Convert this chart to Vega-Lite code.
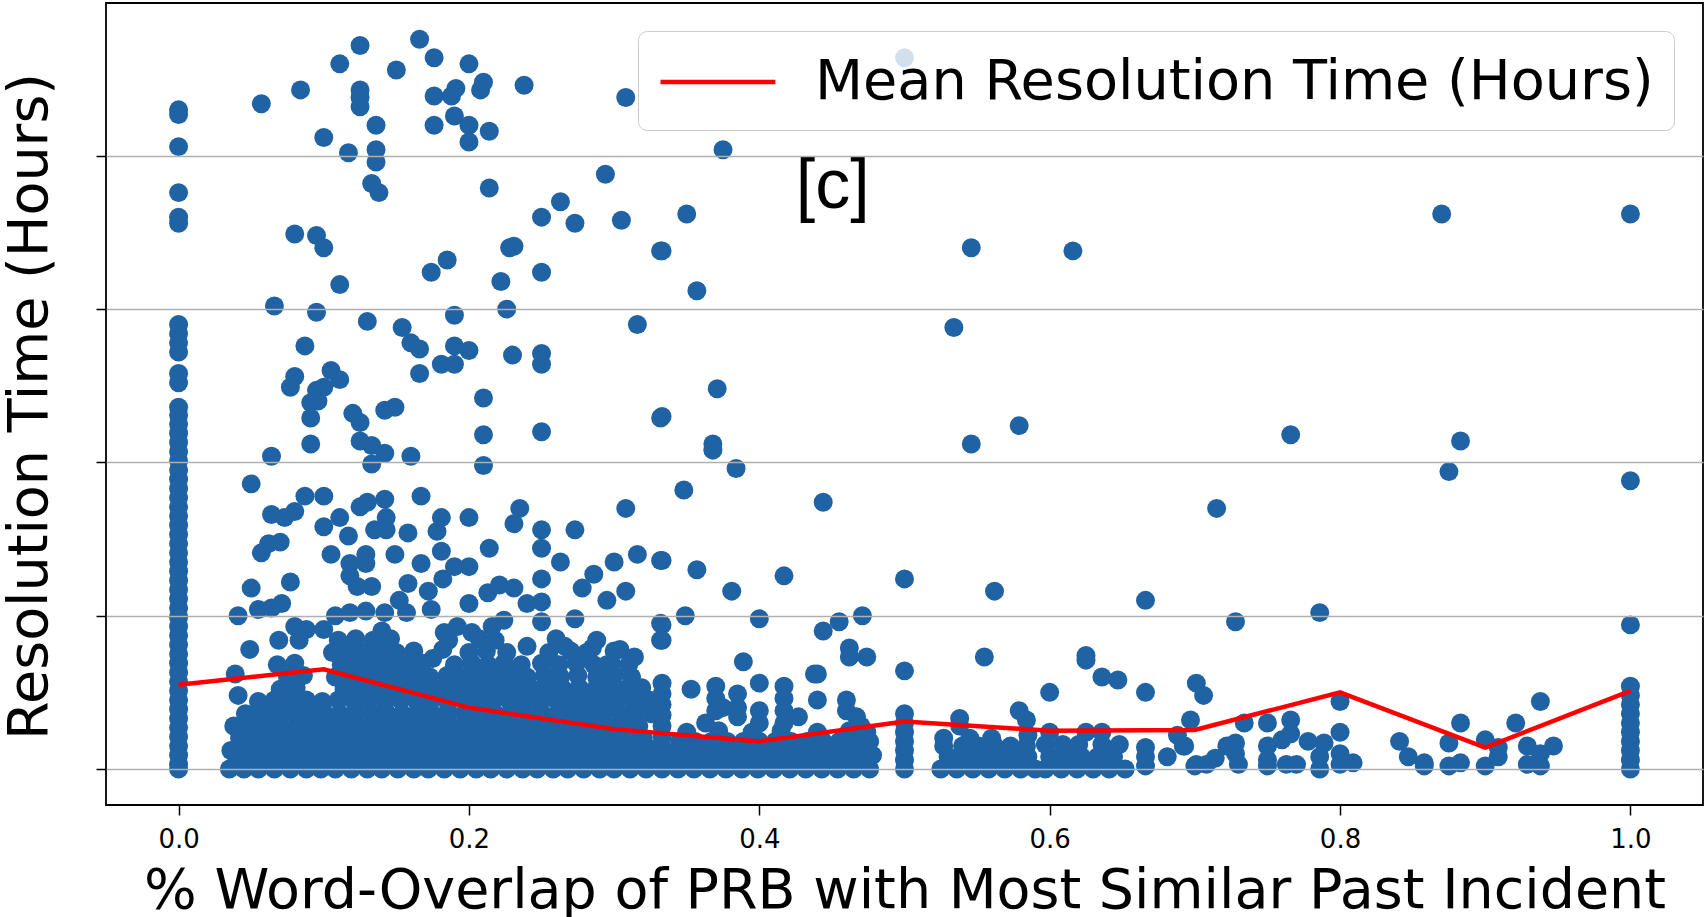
{
  "$schema": "https://vega.github.io/schema/vega-lite/v6.json",
  "width": 1597,
  "height": 802,
  "autosize": {"type": "none"},
  "padding": {"left": 106, "top": 3, "right": 4, "bottom": 112},
  "background": "white",
  "datasets": {
    "incidents": [
      {"overlap":0,"hours":430},{"overlap":0,"hours":427},{"overlap":0,"hours":406},{"overlap":0,"hours":376},{"overlap":0,"hours":360},{"overlap":0,"hours":356},
      {"overlap":0,"hours":290},{"overlap":0,"hours":284},{"overlap":0,"hours":278},{"overlap":0,"hours":272},{"overlap":0,"hours":258},{"overlap":0,"hours":252},
      {"overlap":0,"hours":236},{"overlap":0,"hours":231},{"overlap":0,"hours":225},{"overlap":0,"hours":219},{"overlap":0,"hours":213},{"overlap":0,"hours":207},
      {"overlap":0,"hours":201},{"overlap":0,"hours":195},{"overlap":0,"hours":189},{"overlap":0,"hours":183},{"overlap":0,"hours":177},{"overlap":0,"hours":171},
      {"overlap":0,"hours":165},{"overlap":0,"hours":159},{"overlap":0,"hours":153},{"overlap":0,"hours":147},{"overlap":0,"hours":141},{"overlap":0,"hours":135},
      {"overlap":0,"hours":129},{"overlap":0,"hours":123},{"overlap":0,"hours":117},{"overlap":0,"hours":111},{"overlap":0,"hours":105},{"overlap":0,"hours":99},
      {"overlap":0,"hours":93},{"overlap":0,"hours":87},{"overlap":0,"hours":81},{"overlap":0,"hours":75},{"overlap":0,"hours":69},{"overlap":0,"hours":63},
      {"overlap":0,"hours":57},{"overlap":0,"hours":51},{"overlap":0,"hours":45},{"overlap":0,"hours":39},{"overlap":0,"hours":33},{"overlap":0,"hours":27},
      {"overlap":0,"hours":21},{"overlap":0,"hours":15},{"overlap":0,"hours":9},{"overlap":0,"hours":3},{"overlap":0,"hours":0},

      {"overlap":0.057,"hours":434},{"overlap":0.084,"hours":443},{"overlap":0.111,"hours":460},{"overlap":0.125,"hours":472},{"overlap":0.125,"hours":443},
      {"overlap":0.125,"hours":438},{"overlap":0.125,"hours":432},{"overlap":0.150,"hours":456},{"overlap":0.166,"hours":476},{"overlap":0.176,"hours":464},
      {"overlap":0.200,"hours":460},{"overlap":0.210,"hours":448},{"overlap":0.208,"hours":443},{"overlap":0.191,"hours":444},{"overlap":0.188,"hours":439},
      {"overlap":0.176,"hours":439},{"overlap":0.238,"hours":446},{"overlap":0.308,"hours":438},{"overlap":0.136,"hours":420},{"overlap":0.100,"hours":412},
      {"overlap":0.117,"hours":402},{"overlap":0.136,"hours":404},{"overlap":0.136,"hours":396},{"overlap":0.133,"hours":382},{"overlap":0.138,"hours":376},
      {"overlap":0.176,"hours":420},{"overlap":0.190,"hours":426},{"overlap":0.200,"hours":420},{"overlap":0.200,"hours":409},{"overlap":0.214,"hours":416},
      {"overlap":0.214,"hours":379},{"overlap":0.294,"hours":388},{"overlap":0.263,"hours":370},{"overlap":0.250,"hours":360},{"overlap":0.273,"hours":356},
      {"overlap":0.305,"hours":358},{"overlap":0.332,"hours":338},{"overlap":0.080,"hours":349},{"overlap":0.095,"hours":348},{"overlap":0.100,"hours":340},
      {"overlap":0.111,"hours":316},{"overlap":0.174,"hours":324},{"overlap":0.185,"hours":332},{"overlap":0.228,"hours":340},{"overlap":0.231,"hours":341},
      {"overlap":0.250,"hours":324},{"overlap":0.222,"hours":318},{"overlap":0.226,"hours":300},{"overlap":0.066,"hours":302},{"overlap":0.095,"hours":298},
      {"overlap":0.130,"hours":292},{"overlap":0.154,"hours":288},{"overlap":0.160,"hours":278},{"overlap":0.166,"hours":274},{"overlap":0.190,"hours":296},
      {"overlap":0.190,"hours":276},{"overlap":0.200,"hours":273},{"overlap":0.181,"hours":264},{"overlap":0.190,"hours":264},{"overlap":0.230,"hours":270},
      {"overlap":0.250,"hours":271},{"overlap":0.250,"hours":264},{"overlap":0.166,"hours":258},{"overlap":0.210,"hours":242},{"overlap":0.087,"hours":276},
      {"overlap":0.080,"hours":256},{"overlap":0.077,"hours":249},{"overlap":0.105,"hours":260},{"overlap":0.111,"hours":254},{"overlap":0.095,"hours":247},
      {"overlap":0.100,"hours":249},{"overlap":0.091,"hours":239},{"overlap":0.096,"hours":240},{"overlap":0.316,"hours":290},{"overlap":0.120,"hours":232},
      {"overlap":0.142,"hours":234},{"overlap":0.149,"hours":236},{"overlap":0.091,"hours":229},{"overlap":0.332,"hours":229},

      {"overlap":0.091,"hours":212},{"overlap":0.125,"hours":226},{"overlap":0.125,"hours":214},{"overlap":0.133,"hours":211},{"overlap":0.133,"hours":199},
      {"overlap":0.142,"hours":206},{"overlap":0.160,"hours":204},{"overlap":0.210,"hours":218},{"overlap":0.210,"hours":198},{"overlap":0.250,"hours":220},
      {"overlap":0.064,"hours":204},{"overlap":0.050,"hours":186},{"overlap":0.087,"hours":178},{"overlap":0.100,"hours":178},{"overlap":0.064,"hours":166},
      {"overlap":0.073,"hours":164},{"overlap":0.080,"hours":168},{"overlap":0.057,"hours":141},{"overlap":0.062,"hours":147},{"overlap":0.070,"hours":148},
      {"overlap":0.077,"hours":122},{"overlap":0.050,"hours":118},{"overlap":0.055,"hours":104},{"overlap":0.064,"hours":105},{"overlap":0.071,"hours":108},
      {"overlap":0.041,"hours":100},{"overlap":0.100,"hours":158},{"overlap":0.111,"hours":164},{"overlap":0.117,"hours":152},{"overlap":0.105,"hours":140},
      {"overlap":0.125,"hours":171},{"overlap":0.130,"hours":174},{"overlap":0.142,"hours":176},{"overlap":0.167,"hours":178},{"overlap":0.135,"hours":156},
      {"overlap":0.143,"hours":156},{"overlap":0.143,"hours":164},{"overlap":0.158,"hours":154},{"overlap":0.149,"hours":140},{"overlap":0.129,"hours":140},
      {"overlap":0.129,"hours":134},{"overlap":0.118,"hours":134},{"overlap":0.118,"hours":126},{"overlap":0.133,"hours":119},{"overlap":0.123,"hours":119},
      {"overlap":0.167,"hours":134},{"overlap":0.181,"hours":164},{"overlap":0.178,"hours":155},{"overlap":0.181,"hours":142},{"overlap":0.200,"hours":164},
      {"overlap":0.214,"hours":144},{"overlap":0.231,"hours":160},{"overlap":0.235,"hours":170},{"overlap":0.250,"hours":156},{"overlap":0.250,"hours":144},
      {"overlap":0.250,"hours":124},{"overlap":0.250,"hours":109},{"overlap":0.250,"hours":96},{"overlap":0.263,"hours":135},{"overlap":0.273,"hours":156},
      {"overlap":0.308,"hours":170},{"overlap":0.316,"hours":140},{"overlap":0.300,"hours":135},{"overlap":0.286,"hours":127},{"overlap":0.278,"hours":118},
      {"overlap":0.295,"hours":110},{"overlap":0.308,"hours":116},{"overlap":0.332,"hours":136},{"overlap":0.200,"hours":132},{"overlap":0.190,"hours":132},
      {"overlap":0.182,"hours":124},{"overlap":0.172,"hours":116},{"overlap":0.158,"hours":121},{"overlap":0.152,"hours":110},{"overlap":0.174,"hours":104},
      {"overlap":0.200,"hours":108},{"overlap":0.213,"hours":115},{"overlap":0.221,"hours":120},{"overlap":0.231,"hours":118},{"overlap":0.240,"hours":108},
      {"overlap":0.273,"hours":98},{"overlap":0.332,"hours":95},{"overlap":0.332,"hours":84},{"overlap":0.100,"hours":91},{"overlap":0.108,"hours":100},
      {"overlap":0.118,"hours":102},{"overlap":0.129,"hours":103},{"overlap":0.142,"hours":102},{"overlap":0.157,"hours":102},{"overlap":0.069,"hours":84},
      {"overlap":0.083,"hours":84},{"overlap":0.049,"hours":78},{"overlap":0.080,"hours":93},{"overlap":0.088,"hours":91},{"overlap":0.183,"hours":89},
      {"overlap":0.192,"hours":93},{"overlap":0.202,"hours":89},{"overlap":0.216,"hours":93},{"overlap":0.224,"hours":97},{"overlap":0.266,"hours":80},
      {"overlap":0.285,"hours":79},{"overlap":0.304,"hours":78},{"overlap":0.314,"hours":73},{"overlap":0.295,"hours":68},{"overlap":0.318,"hours":46},
      {"overlap":0.039,"hours":62},{"overlap":0.041,"hours":48},

      {"overlap":0.035,"hours":0},{"overlap":0.045,"hours":0},{"overlap":0.055,"hours":0},{"overlap":0.066,"hours":0},{"overlap":0.077,"hours":0},{"overlap":0.088,"hours":0},
      {"overlap":0.098,"hours":0},{"overlap":0.108,"hours":0},{"overlap":0.119,"hours":0},{"overlap":0.130,"hours":0},{"overlap":0.140,"hours":0},{"overlap":0.151,"hours":0},
      {"overlap":0.162,"hours":0},{"overlap":0.172,"hours":0},{"overlap":0.183,"hours":0},{"overlap":0.194,"hours":0},{"overlap":0.205,"hours":0},{"overlap":0.215,"hours":0},
      {"overlap":0.226,"hours":0},{"overlap":0.237,"hours":0},{"overlap":0.247,"hours":0},{"overlap":0.258,"hours":0},{"overlap":0.268,"hours":0},{"overlap":0.279,"hours":0},
      {"overlap":0.290,"hours":0},{"overlap":0.300,"hours":0},{"overlap":0.311,"hours":0},{"overlap":0.322,"hours":0},
      {"overlap":0.040,"hours":5},{"overlap":0.050,"hours":5},{"overlap":0.061,"hours":6},{"overlap":0.071,"hours":5},{"overlap":0.082,"hours":6},{"overlap":0.093,"hours":5},
      {"overlap":0.103,"hours":6},{"overlap":0.114,"hours":5},{"overlap":0.125,"hours":6},{"overlap":0.135,"hours":5},{"overlap":0.146,"hours":6},{"overlap":0.157,"hours":5},
      {"overlap":0.167,"hours":6},{"overlap":0.178,"hours":5},{"overlap":0.189,"hours":6},{"overlap":0.199,"hours":5},{"overlap":0.210,"hours":6},{"overlap":0.221,"hours":5},
      {"overlap":0.231,"hours":6},{"overlap":0.242,"hours":5},{"overlap":0.253,"hours":6},{"overlap":0.263,"hours":5},{"overlap":0.274,"hours":6},{"overlap":0.285,"hours":5},
      {"overlap":0.295,"hours":6},{"overlap":0.306,"hours":5},{"overlap":0.316,"hours":6},{"overlap":0.327,"hours":5},
      {"overlap":0.036,"hours":12},{"overlap":0.047,"hours":13},{"overlap":0.058,"hours":12},{"overlap":0.069,"hours":13},{"overlap":0.080,"hours":12},{"overlap":0.091,"hours":13},
      {"overlap":0.101,"hours":12},{"overlap":0.112,"hours":13},{"overlap":0.122,"hours":12},{"overlap":0.133,"hours":13},{"overlap":0.144,"hours":12},{"overlap":0.155,"hours":13},
      {"overlap":0.165,"hours":12},{"overlap":0.176,"hours":13},{"overlap":0.187,"hours":12},{"overlap":0.198,"hours":13},{"overlap":0.208,"hours":12},{"overlap":0.219,"hours":13},
      {"overlap":0.230,"hours":12},{"overlap":0.240,"hours":13},{"overlap":0.251,"hours":12},{"overlap":0.262,"hours":13},{"overlap":0.272,"hours":12},{"overlap":0.283,"hours":13},
      {"overlap":0.294,"hours":12},{"overlap":0.304,"hours":13},{"overlap":0.315,"hours":12},{"overlap":0.325,"hours":13},
      {"overlap":0.042,"hours":20},{"overlap":0.052,"hours":21},{"overlap":0.063,"hours":20},{"overlap":0.074,"hours":21},{"overlap":0.085,"hours":20},{"overlap":0.096,"hours":21},
      {"overlap":0.106,"hours":20},{"overlap":0.117,"hours":21},{"overlap":0.128,"hours":20},{"overlap":0.139,"hours":21},{"overlap":0.149,"hours":20},{"overlap":0.160,"hours":21},
      {"overlap":0.171,"hours":20},{"overlap":0.181,"hours":21},{"overlap":0.192,"hours":20},{"overlap":0.203,"hours":21},{"overlap":0.213,"hours":20},{"overlap":0.224,"hours":21},
      {"overlap":0.235,"hours":20},{"overlap":0.245,"hours":21},{"overlap":0.256,"hours":20},{"overlap":0.267,"hours":21},{"overlap":0.277,"hours":20},{"overlap":0.288,"hours":21},
      {"overlap":0.299,"hours":20},{"overlap":0.309,"hours":21},{"overlap":0.320,"hours":20},
      {"overlap":0.038,"hours":28},{"overlap":0.049,"hours":29},{"overlap":0.060,"hours":28},{"overlap":0.070,"hours":29},{"overlap":0.081,"hours":28},{"overlap":0.092,"hours":29},
      {"overlap":0.103,"hours":28},{"overlap":0.113,"hours":29},{"overlap":0.124,"hours":28},{"overlap":0.135,"hours":29},{"overlap":0.146,"hours":28},{"overlap":0.156,"hours":29},
      {"overlap":0.167,"hours":28},{"overlap":0.178,"hours":29},{"overlap":0.188,"hours":28},{"overlap":0.199,"hours":29},{"overlap":0.210,"hours":28},{"overlap":0.221,"hours":29},
      {"overlap":0.231,"hours":28},{"overlap":0.242,"hours":29},{"overlap":0.253,"hours":28},{"overlap":0.263,"hours":29},{"overlap":0.274,"hours":28},{"overlap":0.285,"hours":29},
      {"overlap":0.295,"hours":28},{"overlap":0.306,"hours":29},{"overlap":0.317,"hours":28},
      {"overlap":0.046,"hours":36},{"overlap":0.057,"hours":37},{"overlap":0.068,"hours":36},{"overlap":0.079,"hours":37},{"overlap":0.090,"hours":36},{"overlap":0.100,"hours":37},
      {"overlap":0.111,"hours":36},{"overlap":0.122,"hours":37},{"overlap":0.133,"hours":36},{"overlap":0.143,"hours":37},{"overlap":0.154,"hours":36},{"overlap":0.165,"hours":37},
      {"overlap":0.175,"hours":36},{"overlap":0.186,"hours":37},{"overlap":0.197,"hours":36},{"overlap":0.208,"hours":37},{"overlap":0.218,"hours":36},{"overlap":0.229,"hours":37},
      {"overlap":0.240,"hours":36},{"overlap":0.250,"hours":37},{"overlap":0.261,"hours":36},{"overlap":0.272,"hours":37},{"overlap":0.283,"hours":36},{"overlap":0.293,"hours":37},
      {"overlap":0.304,"hours":36},{"overlap":0.315,"hours":37},{"overlap":0.326,"hours":36},
      {"overlap":0.055,"hours":44},{"overlap":0.066,"hours":45},{"overlap":0.077,"hours":44},{"overlap":0.088,"hours":45},{"overlap":0.099,"hours":44},{"overlap":0.110,"hours":45},
      {"overlap":0.121,"hours":44},{"overlap":0.131,"hours":45},{"overlap":0.142,"hours":44},{"overlap":0.153,"hours":45},{"overlap":0.164,"hours":44},{"overlap":0.174,"hours":45},
      {"overlap":0.185,"hours":44},{"overlap":0.196,"hours":45},{"overlap":0.206,"hours":44},{"overlap":0.217,"hours":45},{"overlap":0.228,"hours":44},{"overlap":0.238,"hours":45},
      {"overlap":0.249,"hours":44},{"overlap":0.260,"hours":45},{"overlap":0.270,"hours":44},{"overlap":0.281,"hours":45},{"overlap":0.292,"hours":44},{"overlap":0.302,"hours":45},
      {"overlap":0.313,"hours":44},{"overlap":0.324,"hours":45},
      {"overlap":0.070,"hours":52},{"overlap":0.081,"hours":53},{"overlap":0.114,"hours":52},{"overlap":0.125,"hours":53},{"overlap":0.136,"hours":52},{"overlap":0.147,"hours":53},
      {"overlap":0.158,"hours":52},{"overlap":0.169,"hours":53},{"overlap":0.179,"hours":52},{"overlap":0.190,"hours":53},{"overlap":0.201,"hours":52},{"overlap":0.212,"hours":53},
      {"overlap":0.223,"hours":52},{"overlap":0.233,"hours":53},{"overlap":0.244,"hours":52},{"overlap":0.255,"hours":53},{"overlap":0.265,"hours":52},{"overlap":0.276,"hours":53},
      {"overlap":0.287,"hours":52},{"overlap":0.297,"hours":53},{"overlap":0.308,"hours":52},{"overlap":0.319,"hours":53},
      {"overlap":0.075,"hours":60},{"overlap":0.086,"hours":61},{"overlap":0.108,"hours":60},{"overlap":0.119,"hours":61},{"overlap":0.130,"hours":60},{"overlap":0.141,"hours":61},
      {"overlap":0.152,"hours":60},{"overlap":0.163,"hours":61},{"overlap":0.173,"hours":60},{"overlap":0.185,"hours":61},{"overlap":0.196,"hours":60},{"overlap":0.207,"hours":61},
      {"overlap":0.218,"hours":60},{"overlap":0.229,"hours":61},{"overlap":0.240,"hours":60},{"overlap":0.252,"hours":61},{"overlap":0.263,"hours":60},{"overlap":0.275,"hours":61},
      {"overlap":0.288,"hours":60},{"overlap":0.300,"hours":61},{"overlap":0.312,"hours":60},
      {"overlap":0.068,"hours":68},{"overlap":0.080,"hours":69},{"overlap":0.112,"hours":68},{"overlap":0.123,"hours":69},{"overlap":0.134,"hours":68},{"overlap":0.145,"hours":69},
      {"overlap":0.156,"hours":68},{"overlap":0.168,"hours":69},{"overlap":0.190,"hours":68},{"overlap":0.202,"hours":69},{"overlap":0.213,"hours":68},{"overlap":0.224,"hours":69},
      {"overlap":0.236,"hours":68},{"overlap":0.250,"hours":69},{"overlap":0.262,"hours":68},{"overlap":0.274,"hours":69},{"overlap":0.286,"hours":68},{"overlap":0.298,"hours":69},
      {"overlap":0.310,"hours":68},
      {"overlap":0.106,"hours":76},{"overlap":0.117,"hours":77},{"overlap":0.128,"hours":76},{"overlap":0.139,"hours":77},{"overlap":0.150,"hours":76},{"overlap":0.162,"hours":77},
      {"overlap":0.200,"hours":76},{"overlap":0.212,"hours":77},{"overlap":0.226,"hours":76},{"overlap":0.270,"hours":77},{"overlap":0.281,"hours":76},{"overlap":0.300,"hours":77},
      {"overlap":0.110,"hours":84},{"overlap":0.122,"hours":85},{"overlap":0.134,"hours":84},{"overlap":0.146,"hours":85},{"overlap":0.186,"hours":84},{"overlap":0.207,"hours":85},
      {"overlap":0.218,"hours":84},{"overlap":0.260,"hours":85},
      {"overlap":0.175,"hours":72},{"overlap":0.182,"hours":78},{"overlap":0.240,"hours":80},{"overlap":0.255,"hours":76},{"overlap":0.288,"hours":84},{"overlap":0.140,"hours":90},

      {"overlap":0.333,"hours":0},{"overlap":0.333,"hours":7},{"overlap":0.333,"hours":14},{"overlap":0.333,"hours":21},{"overlap":0.333,"hours":28},{"overlap":0.333,"hours":35},
      {"overlap":0.333,"hours":42},{"overlap":0.333,"hours":49},{"overlap":0.333,"hours":56},{"overlap":0.333,"hours":94},{"overlap":0.333,"hours":84},
      {"overlap":0.344,"hours":0},{"overlap":0.355,"hours":0},{"overlap":0.366,"hours":0},{"overlap":0.377,"hours":0},{"overlap":0.388,"hours":0},{"overlap":0.399,"hours":0},
      {"overlap":0.410,"hours":0},{"overlap":0.421,"hours":0},{"overlap":0.432,"hours":0},{"overlap":0.443,"hours":0},{"overlap":0.454,"hours":0},{"overlap":0.465,"hours":0},
      {"overlap":0.476,"hours":0},
      {"overlap":0.340,"hours":9},{"overlap":0.351,"hours":9},{"overlap":0.362,"hours":9},{"overlap":0.373,"hours":9},{"overlap":0.384,"hours":9},{"overlap":0.395,"hours":9},
      {"overlap":0.406,"hours":9},{"overlap":0.417,"hours":9},{"overlap":0.428,"hours":9},{"overlap":0.439,"hours":9},{"overlap":0.450,"hours":9},{"overlap":0.461,"hours":9},
      {"overlap":0.472,"hours":9},{"overlap":0.478,"hours":9},
      {"overlap":0.345,"hours":18},{"overlap":0.356,"hours":18},{"overlap":0.367,"hours":18},{"overlap":0.378,"hours":18},{"overlap":0.389,"hours":18},{"overlap":0.400,"hours":18},
      {"overlap":0.411,"hours":18},{"overlap":0.422,"hours":18},{"overlap":0.433,"hours":18},{"overlap":0.444,"hours":18},{"overlap":0.455,"hours":18},{"overlap":0.466,"hours":18},
      {"overlap":0.476,"hours":18},
      {"overlap":0.350,"hours":24},{"overlap":0.372,"hours":25},{"overlap":0.395,"hours":24},{"overlap":0.415,"hours":25},{"overlap":0.440,"hours":24},{"overlap":0.462,"hours":25},
      {"overlap":0.474,"hours":24},
      {"overlap":0.353,"hours":52},{"overlap":0.370,"hours":54},{"overlap":0.370,"hours":46},{"overlap":0.370,"hours":38},{"overlap":0.385,"hours":49},{"overlap":0.385,"hours":40},
      {"overlap":0.385,"hours":34},{"overlap":0.400,"hours":56},{"overlap":0.400,"hours":38},{"overlap":0.400,"hours":30},{"overlap":0.417,"hours":54},{"overlap":0.417,"hours":46},
      {"overlap":0.417,"hours":38},{"overlap":0.417,"hours":30},{"overlap":0.427,"hours":34},{"overlap":0.440,"hours":45},{"overlap":0.440,"hours":62},{"overlap":0.460,"hours":45},
      {"overlap":0.460,"hours":38},{"overlap":0.470,"hours":28},{"overlap":0.363,"hours":30},{"overlap":0.375,"hours":40},{"overlap":0.467,"hours":34},
      {"overlap":0.333,"hours":230},{"overlap":0.368,"hours":212},{"overlap":0.368,"hours":208},{"overlap":0.384,"hours":196},{"overlap":0.348,"hours":182},
      {"overlap":0.444,"hours":174},{"overlap":0.546,"hours":212},{"overlap":0.579,"hours":224},{"overlap":0.333,"hours":136},{"overlap":0.357,"hours":130},
      {"overlap":0.381,"hours":116},{"overlap":0.417,"hours":126},{"overlap":0.500,"hours":124},{"overlap":0.562,"hours":116},{"overlap":0.666,"hours":110},
      {"overlap":0.349,"hours":100},{"overlap":0.400,"hours":98},{"overlap":0.444,"hours":90},{"overlap":0.455,"hours":96},{"overlap":0.471,"hours":100},
      {"overlap":0.462,"hours":79},{"overlap":0.462,"hours":73},{"overlap":0.474,"hours":73},{"overlap":0.389,"hours":70},{"overlap":0.500,"hours":64},
      {"overlap":0.555,"hours":73},{"overlap":0.625,"hours":74},{"overlap":0.625,"hours":71},{"overlap":0.636,"hours":60},{"overlap":0.647,"hours":58},
      {"overlap":0.600,"hours":50},{"overlap":0.666,"hours":50},{"overlap":0.438,"hours":62},

      {"overlap":0.500,"hours":0},{"overlap":0.500,"hours":6},{"overlap":0.500,"hours":12},{"overlap":0.500,"hours":18},{"overlap":0.500,"hours":24},{"overlap":0.500,"hours":30},
      {"overlap":0.500,"hours":36},{"overlap":0.500,"hours":464},
      {"overlap":0.525,"hours":0},{"overlap":0.536,"hours":0},{"overlap":0.547,"hours":0},{"overlap":0.558,"hours":0},{"overlap":0.569,"hours":0},{"overlap":0.580,"hours":0},
      {"overlap":0.590,"hours":0},{"overlap":0.530,"hours":8},{"overlap":0.541,"hours":8},{"overlap":0.552,"hours":8},{"overlap":0.563,"hours":8},{"overlap":0.574,"hours":8},
      {"overlap":0.585,"hours":8},{"overlap":0.527,"hours":15},{"overlap":0.540,"hours":15},{"overlap":0.551,"hours":15},{"overlap":0.562,"hours":15},{"overlap":0.573,"hours":15},
      {"overlap":0.584,"hours":15},{"overlap":0.527,"hours":20},{"overlap":0.545,"hours":20},{"overlap":0.560,"hours":20},
      {"overlap":0.538,"hours":33},{"overlap":0.538,"hours":28},{"overlap":0.579,"hours":38},{"overlap":0.584,"hours":32},{"overlap":0.585,"hours":22},
      {"overlap":0.597,"hours":0},{"overlap":0.608,"hours":0},{"overlap":0.619,"hours":0},{"overlap":0.630,"hours":0},{"overlap":0.641,"hours":0},{"overlap":0.652,"hours":0},
      {"overlap":0.600,"hours":8},{"overlap":0.611,"hours":8},{"overlap":0.622,"hours":8},{"overlap":0.633,"hours":8},{"overlap":0.644,"hours":8},
      {"overlap":0.597,"hours":16},{"overlap":0.609,"hours":16},{"overlap":0.620,"hours":16},{"overlap":0.636,"hours":16},{"overlap":0.648,"hours":16},
      {"overlap":0.600,"hours":24},{"overlap":0.625,"hours":24},{"overlap":0.636,"hours":24},
      {"overlap":0.666,"hours":2},{"overlap":0.666,"hours":8},{"overlap":0.666,"hours":14},{"overlap":0.681,"hours":8},{"overlap":0.688,"hours":22},
      {"overlap":0.692,"hours":15},{"overlap":0.697,"hours":32},{"overlap":0.700,"hours":2},
      {"overlap":0.616,"hours":338},{"overlap":0.546,"hours":340},{"overlap":0.534,"hours":288},{"overlap":0.375,"hours":404},{"overlap":0.350,"hours":362},
      {"overlap":0.333,"hours":338},{"overlap":0.357,"hours":312},{"overlap":0.371,"hours":248},

      {"overlap":0.870,"hours":362},{"overlap":1.0,"hours":362},
      {"overlap":0.766,"hours":218},{"overlap":0.883,"hours":214},{"overlap":0.875,"hours":194},{"overlap":1.0,"hours":188},{"overlap":0.715,"hours":170},
      {"overlap":0.728,"hours":96},{"overlap":0.786,"hours":102},{"overlap":1.0,"hours":94},{"overlap":0.701,"hours":56},{"overlap":0.706,"hours":48},
      {"overlap":0.734,"hours":30},{"overlap":0.750,"hours":30},{"overlap":0.766,"hours":32},{"overlap":0.800,"hours":44},{"overlap":0.800,"hours":24},
      {"overlap":0.883,"hours":30},{"overlap":0.921,"hours":30},{"overlap":0.938,"hours":44},{"overlap":1.0,"hours":54},{"overlap":0.693,"hours":15},
      {"overlap":0.728,"hours":17},{"overlap":0.722,"hours":15},{"overlap":0.728,"hours":10},{"overlap":0.714,"hours":7},{"overlap":0.701,"hours":3},
      {"overlap":0.708,"hours":3},{"overlap":0.730,"hours":3},{"overlap":0.750,"hours":15},{"overlap":0.750,"hours":6},{"overlap":0.750,"hours":2},
      {"overlap":0.760,"hours":19},{"overlap":0.766,"hours":23},{"overlap":0.763,"hours":3},{"overlap":0.770,"hours":3},{"overlap":0.778,"hours":18},
      {"overlap":0.789,"hours":17},{"overlap":0.786,"hours":8},{"overlap":0.786,"hours":0},{"overlap":0.800,"hours":10},{"overlap":0.800,"hours":3},
      {"overlap":0.809,"hours":4},{"overlap":0.841,"hours":18},{"overlap":0.847,"hours":8},{"overlap":0.858,"hours":4},{"overlap":0.858,"hours":2},
      {"overlap":0.875,"hours":17},{"overlap":0.875,"hours":2},{"overlap":0.883,"hours":4},{"overlap":0.900,"hours":19},{"overlap":0.900,"hours":2},
      {"overlap":0.909,"hours":14},{"overlap":0.909,"hours":8},{"overlap":0.929,"hours":15},{"overlap":0.929,"hours":3},{"overlap":0.938,"hours":10},
      {"overlap":0.938,"hours":2},{"overlap":0.947,"hours":15},
      {"overlap":1.0,"hours":0},{"overlap":1.0,"hours":6},{"overlap":1.0,"hours":12},{"overlap":1.0,"hours":18},{"overlap":1.0,"hours":24},{"overlap":1.0,"hours":30},
      {"overlap":1.0,"hours":36},{"overlap":1.0,"hours":42},{"overlap":1.0,"hours":48}
    ],
    "means": [
      {"overlap":0.0,"hours":55,"series":"Mean Resolution Time (Hours)"},
      {"overlap":0.1,"hours":65,"series":"Mean Resolution Time (Hours)"},
      {"overlap":0.2,"hours":40,"series":"Mean Resolution Time (Hours)"},
      {"overlap":0.3,"hours":26,"series":"Mean Resolution Time (Hours)"},
      {"overlap":0.4,"hours":18,"series":"Mean Resolution Time (Hours)"},
      {"overlap":0.5,"hours":31,"series":"Mean Resolution Time (Hours)"},
      {"overlap":0.6,"hours":25,"series":"Mean Resolution Time (Hours)"},
      {"overlap":0.7,"hours":25.5,"series":"Mean Resolution Time (Hours)"},
      {"overlap":0.8,"hours":50,"series":"Mean Resolution Time (Hours)"},
      {"overlap":0.9,"hours":14,"series":"Mean Resolution Time (Hours)"},
      {"overlap":1.0,"hours":51,"series":"Mean Resolution Time (Hours)"}
    ],
    "notes": [
      {"overlap":0.4505,"hours":366,"label":"[c]"}
    ]
  },
  "layer": [
    {
      "data": {"name": "incidents"},
      "mark": {"type": "circle", "size": 360, "opacity": 1, "color": "#1f63a4"},
      "encoding": {
        "x": {
          "field": "overlap", "type": "quantitative",
          "scale": {"domain": [-0.05, 1.05], "nice": false, "zero": false},
          "axis": {
            "values": [0, 0.2, 0.4, 0.6, 0.8, 1.0], "format": ".1f",
            "grid": false, "domain": false,
            "tickSize": 10, "tickColor": "black", "tickWidth": 1.5,
            "labelFont": "DejaVu Sans", "labelFontSize": 26, "labelColor": "black",
            "labelPadding": 32, "labelBaseline": "alphabetic",
            "title": "% Word-Overlap of PRB with Most Similar Past Incident",
            "titleFont": "DejaVu Sans", "titleFontSize": 55.5, "titleFontWeight": "normal",
            "titleColor": "black", "titleY": 102, "titleBaseline": "alphabetic"
          }
        },
        "y": {
          "field": "hours", "type": "quantitative",
          "scale": {"domain": [-23.5, 499.7], "nice": false, "zero": false},
          "axis": {
            "values": [0, 100, 200, 300, 400], "labels": false,
            "domain": false, "zindex": 1,
            "tickSize": 10, "tickColor": "black", "tickWidth": 1.5,
            "grid": true, "gridColor": "#b0b0b0", "gridWidth": 1.7,
            "title": "Resolution Time (Hours)",
            "titleFont": "DejaVu Sans", "titleFontSize": 55.5, "titleFontWeight": "normal",
            "titleColor": "black", "titleAngle": -90, "titleAlign": "center",
            "titleBaseline": "alphabetic", "titleX": -60, "titleY": 403
          }
        }
      }
    },
    {
      "data": {"name": "means"},
      "mark": {"type": "line", "strokeWidth": 4.5},
      "encoding": {
        "x": {"field": "overlap", "type": "quantitative"},
        "y": {"field": "hours", "type": "quantitative"},
        "color": {
          "field": "series", "type": "nominal",
          "scale": {"range": ["#ff0000"]},
          "legend": {
            "title": null, "orient": "none", "legendX": 532, "legendY": 28,
            "symbolType": "M-1,0H3.03", "symbolSize": 3249, "symbolStrokeWidth": 4.5,
            "labelFont": "DejaVu Sans", "labelFontSize": 55.7, "labelColor": "black",
            "labelLimit": 2000, "labelOffset": 95, "padding": 20,
            "fillColor": "rgba(255,255,255,0.8)", "strokeColor": "#cccccc",
            "cornerRadius": 9
          }
        }
      }
    },
    {
      "data": {"name": "notes"},
      "mark": {"type": "text", "font": "Liberation Sans", "fontSize": 70, "color": "black", "align": "center", "baseline": "alphabetic"},
      "encoding": {
        "x": {"field": "overlap", "type": "quantitative"},
        "y": {"field": "hours", "type": "quantitative"},
        "text": {"field": "label"}
      }
    }
  ],
  "config": {
    "view": {"stroke": "black", "strokeWidth": 1.8}
  }
}
